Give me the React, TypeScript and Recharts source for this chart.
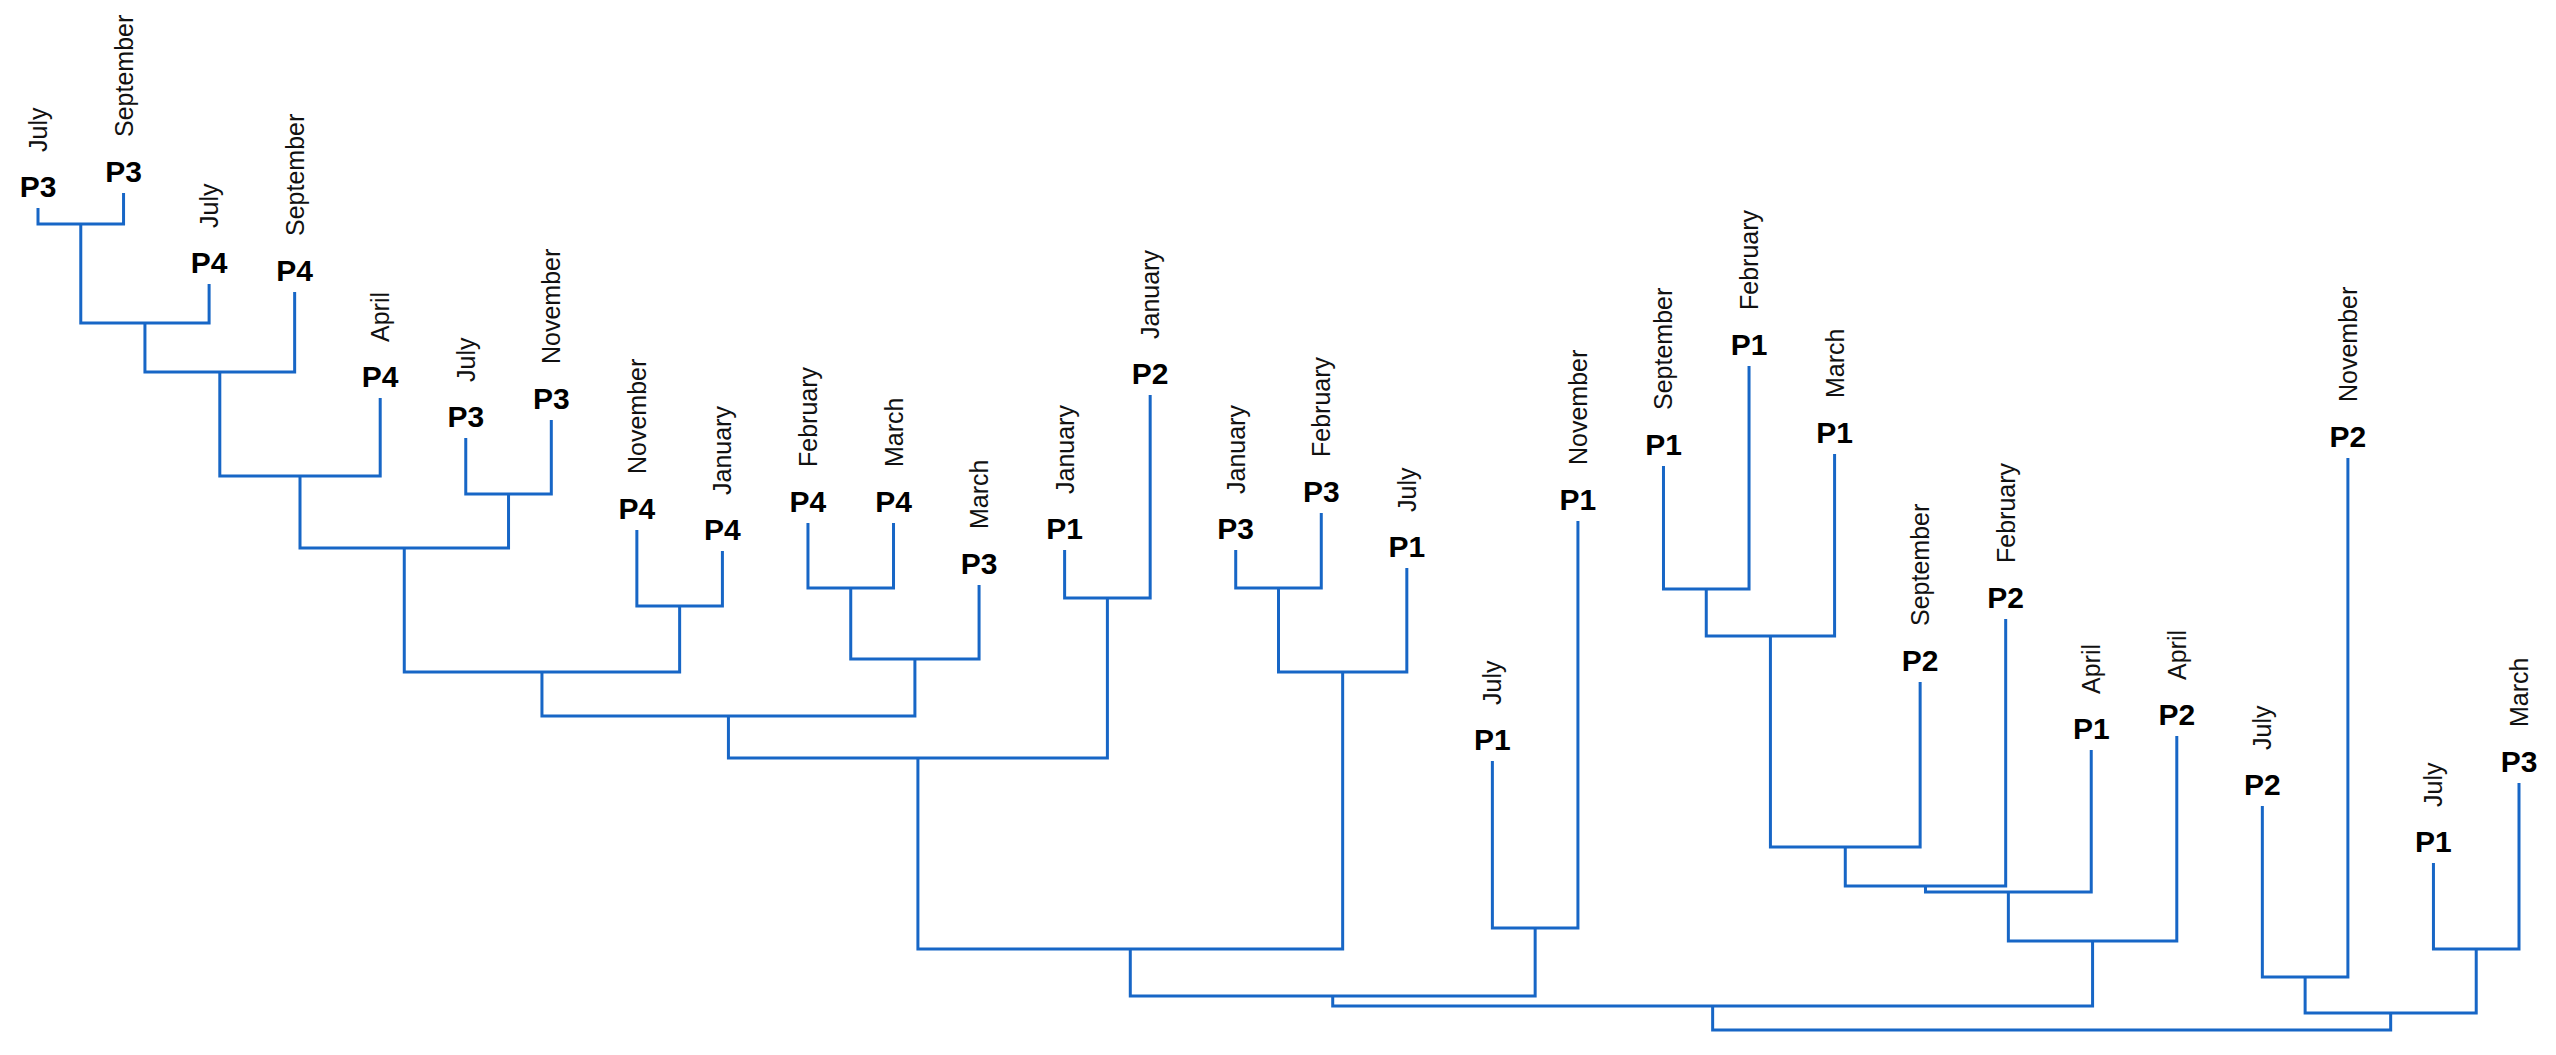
import { ScatterChart, Scatter, XAxis, YAxis } from "recharts"

// leaves, left to right
const groups = [
  "P3", "P3", "P4", "P4", "P4", "P3", "P3", "P4", "P4", "P4",
  "P4", "P3", "P1", "P2", "P3", "P3", "P1", "P1", "P1", "P1",
  "P1", "P1", "P2", "P2", "P1", "P2", "P2", "P2", "P1", "P3"
]

const months = [
  "July", "September", "July", "September", "April", "July", "November", "November", "January", "February",
  "March", "March", "January", "January", "January", "February", "July", "July", "November", "September",
  "February", "March", "September", "February", "April", "April", "July", "November", "July", "March"
]

// height where each leaf branch starts
const leafHeights = [
  84.0, 85.5, 76.4, 75.6, 65.0, 61.0, 62.8, 51.8, 49.7, 52.5,
  52.5, 46.3, 49.8, 65.3, 49.8, 53.5, 48.0, 28.7, 52.7, 58.2,
  68.2, 59.4, 36.6, 42.9, 29.8, 31.2, 24.2, 59.0, 18.5, 26.5
]

// [left node, right node, height]; leaves are 0..29, merges get ids from 30 on
const merges: [number, number, number][] = [
  [0, 1, 82.4],
  [30, 2, 72.5],
  [31, 3, 67.6],
  [32, 4, 57.2],
  [5, 6, 55.4],
  [33, 34, 50.0],
  [7, 8, 44.2],
  [35, 36, 37.6],
  [9, 10, 46.0],
  [38, 11, 38.9],
  [37, 39, 33.2],
  [12, 13, 45.0],
  [40, 41, 29.0],
  [14, 15, 46.0],
  [43, 16, 37.6],
  [42, 44, 9.9],
  [17, 18, 12.0],
  [45, 46, 5.2],
  [19, 20, 45.9],
  [48, 21, 41.2],
  [49, 22, 20.1],
  [50, 23, 16.2],
  [51, 24, 15.6],
  [52, 25, 10.7],
  [47, 53, 4.2],
  [26, 27, 7.1],
  [28, 29, 9.9],
  [55, 56, 3.5],
  [54, 57, 1.8]
]

const nodeX: number[] = leafHeights.map((_, i) => i)
const nodeH: number[] = [...leafHeights]
merges.forEach(([a, b, h]) => {
  nodeX.push((nodeX[a] + nodeX[b]) / 2)
  nodeH.push(h)
})

const links = merges.map(([a, b, h]) => [
  { x: nodeX[a], y: nodeH[a] },
  { x: nodeX[a], y: h },
  { x: nodeX[b], y: h },
  { x: nodeX[b], y: nodeH[b] }
])

const leaves = leafHeights.map((h, i) => ({ x: i, y: h, group: groups[i], month: months[i] }))

const BLUE = "#1766c6"
const FONT = "Liberation Sans, Arial, sans-serif"

const NoDot = () => <g />

const LeafLabel = (props: any) => {
  const { cx, cy, payload } = props
  return (
    <g>
      <text
        x={cx}
        y={cy - 22}
        textAnchor="middle"
        dominantBaseline="central"
        fontSize={30}
        fontWeight="bold"
        fontFamily={FONT}
        fill="#000"
      >
        {payload.group}
      </text>
      <text
        transform={`translate(${cx},${cy - 56}) rotate(-90)`}
        textAnchor="start"
        dominantBaseline="central"
        fontSize={25}
        fontFamily={FONT}
        fill="#111"
      >
        {payload.month}
      </text>
    </g>
  )
}

export default function App() {
  return (
    <ScatterChart
      width={2540}
      height={1040}
      margin={{ top: 0, right: 29, left: 30, bottom: 0 }}
    >
      <XAxis type="number" dataKey="x" domain={[0, 29]} hide />
      <YAxis type="number" dataKey="y" domain={[0, 104]} hide />
      {links.map((pts, i) => (
        <Scatter
          key={i}
          data={pts}
          line={{ stroke: BLUE, strokeWidth: 3 }}
          lineType="joint"
          shape={NoDot}
          fill={BLUE}
          isAnimationActive={false}
        />
      ))}
      <Scatter data={leaves} shape={LeafLabel} isAnimationActive={false} />
    </ScatterChart>
  )
}
